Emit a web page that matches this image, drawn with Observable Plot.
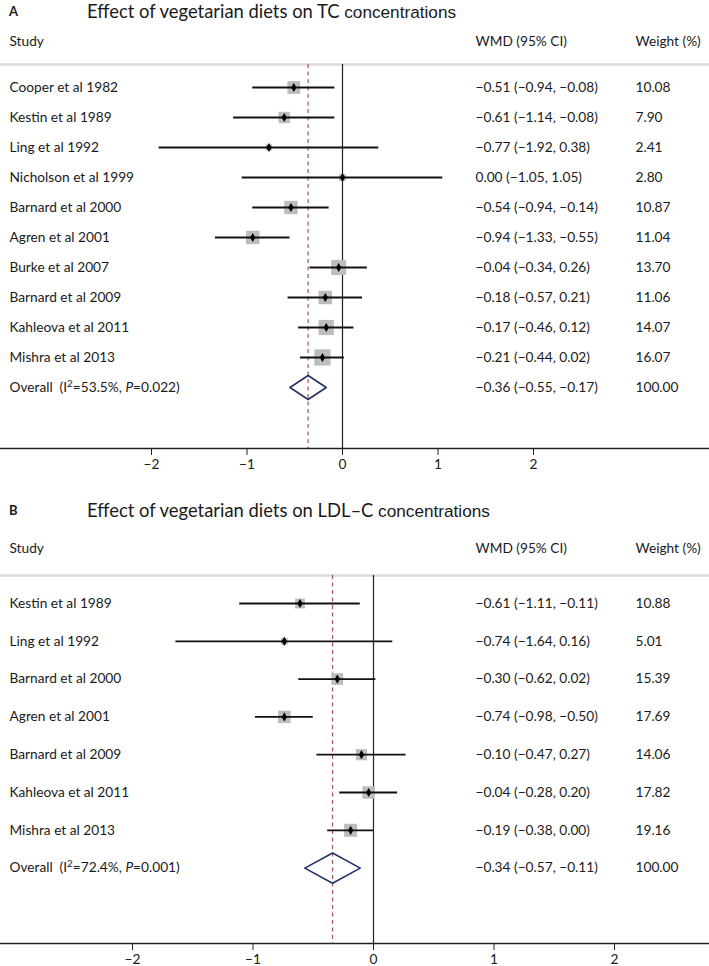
<!DOCTYPE html>
<html><head><meta charset="utf-8">
<script src="https://cdn.jsdelivr.net/npm/d3@7"></script>
<script src="https://cdn.jsdelivr.net/npm/@observablehq/plot@0.6"></script>
<style>
body{margin:0;background:#fff;font-family:Lato,sans-serif;color:#1a1a1a;}
#wrap{width:709px;}
.title{position:relative;width:709px;font-size:18.4px;}
.title span{position:absolute;top:0;line-height:24px;white-space:pre;}
.title .lab{left:9px;font-weight:bold;font-size:13px;}
.title .txt{left:87px;}
.title .arial{font-family:"Liberation Sans",Arial,sans-serif;font-size:17.2px;}
svg{display:block}
</style></head><body><div id="wrap"></div>
<script>
// ---- Panel A: TC ----
const studiesA = ["Cooper et al 1982","Kestin et al 1989","Ling et al 1992","Nicholson et al 1999","Barnard et al 2000","Agren et al 2001","Burke et al 2007","Barnard et al 2009","Kahleova et al 2011","Mishra et al 2013"];
const wmdA = [-0.51,-0.61,-0.77,0.00,-0.54,-0.94,-0.04,-0.18,-0.17,-0.21];
const loA  = [-0.94,-1.14,-1.92,-1.05,-0.94,-1.33,-0.34,-0.57,-0.46,-0.44];
const hiA  = [-0.08,-0.08,0.38,1.05,-0.14,-0.55,0.26,0.21,0.12,0.02];
const weightA = [10.08,7.90,2.41,2.80,10.87,11.04,13.70,11.06,14.07,16.07];
const overallA = {label:"Overall\u2002(I²=53.5%, P=0.022)", est:-0.36, lo:-0.55, hi:-0.17, w:100.00};

// ---- Panel B: LDL-C ----
const studiesB = ["Kestin et al 1989","Ling et al 1992","Barnard et al 2000","Agren et al 2001","Barnard et al 2009","Kahleova et al 2011","Mishra et al 2013"];
const wmdB = [-0.61,-0.74,-0.30,-0.74,-0.10,-0.04,-0.19];
const loB  = [-1.11,-1.64,-0.62,-0.98,-0.47,-0.28,-0.38];
const hiB  = [-0.11,0.16,0.02,-0.50,0.27,0.20,0.00];
const weightB = [10.88,5.01,15.39,17.69,14.06,17.82,19.16];
const overallB = {label:"Overall\u2002(I²=72.4%, P=0.001)", est:-0.34, lo:-0.57, hi:-0.11, w:100.00};

const xTicks = [-2,-1,0,1,2];
const headers = ["Study","WMD (95% CI)","Weight (%)"];

const f2 = d3.format(".2f");
const fInt = d3.format("d");
const ci = (e,l,h) => `${f2(e)} (${f2(l)}, ${f2(h)})`;

function panel(cfg){
  const n = cfg.studies.length;
  const rows = cfg.studies.map((s,i)=>({i, study:s, est:cfg.est[i], lo:cfg.lo[i], hi:cfg.hi[i], w:cfg.w[i]}));
  const ov = cfg.overall;
  const all = rows.concat([{i:n, study:ov.label, est:ov.est, lo:ov.lo, hi:ov.hi, w:ov.w}]);
  const dh = 0.4;
  const diamond = [[ov.lo,n],[ov.est,n-dh],[ov.hi,n],[ov.est,n+dh],[ov.lo,n]].map(([x,y])=>({x,y}));
  const svg = Plot.plot({
    width:709, height:cfg.height,
    marginLeft:0, marginRight:0, marginTop:cfg.top, marginBottom:cfg.bottom,
    x:{domain:[-2,2], range:cfg.xr},
    y:{domain:[0,n], range:[cfg.y0, cfg.y0 + n*cfg.step], axis:null},
    r:{type:"sqrt", domain:[0,100], range:[0,cfg.rmax]},
    style:{fontFamily:"Lato, sans-serif", fontSize:"13.7px", color:"#1a1a1a", background:"#fff"},
    marks:[
      Plot.frame({anchor:"top", stroke:"#dadada", strokeWidth:2.5}),
      Plot.ruleX([0], {stroke:"#222", strokeWidth:1.2}),
      Plot.ruleX([ov.est], {stroke:"#a3544c", strokeWidth:1.2, strokeDasharray:"4,3.5"}),
      Plot.dot(rows, {x:"est", y:"i", r:"w", symbol:"square", fill:"#bdbdbd", stroke:null}),
      Plot.ruleY(rows, {y:"i", x1:"lo", x2:"hi", stroke:"#111", strokeWidth:1.8}),
      Plot.dot(rows, {x:"est", y:"i", symbol:"diamond", r:2.8, fill:"#000", stroke:null}),
      Plot.line(diamond, {x:"x", y:"y", stroke:"#28306a", strokeWidth:1.6}),
      Plot.text(all, {y:"i", text:"study", frameAnchor:"left", dx:9, textAnchor:"start", fill:"#1a1a1a"}),
      Plot.text(all, {y:"i", text:d=>ci(d.est,d.lo,d.hi), frameAnchor:"left", dx:475, textAnchor:"start", fill:"#1a1a1a"}),
      Plot.text(all, {y:"i", text:d=>f2(d.w), frameAnchor:"left", dx:635, textAnchor:"start", fill:"#1a1a1a"}),
      Plot.text([headers[0]], {text:d=>d, frameAnchor:"top-left", dx:9, dy:cfg.hdy, lineAnchor:"middle", textAnchor:"start", fill:"#1a1a1a"}),
      Plot.text([headers[1]], {text:d=>d, frameAnchor:"top-left", dx:475, dy:cfg.hdy, lineAnchor:"middle", textAnchor:"start", fill:"#1a1a1a"}),
      Plot.text([headers[2]], {text:d=>d, frameAnchor:"top-left", dx:635, dy:cfg.hdy, lineAnchor:"middle", textAnchor:"start", fill:"#1a1a1a"}),
      Plot.axisX({ticks:xTicks, tickFormat:fInt, tickSize:7, tickPadding:4, label:null, stroke:"#222", fill:"#1a1a1a"}),
      Plot.frame({anchor:"bottom", stroke:"#222", strokeWidth:1.4})
    ]
  });
  // italic P and superscript 2 in the overall label
  d3.select(svg).selectAll("text").each(function(){
    const t = this.textContent;
    if (t.startsWith("Overall") && t.includes("P=")) {
      const m = t.match(/^(.*\(I)²(=.*, )P(=.*)$/);
      if (!m) return;
      const el = d3.select(this); el.text(null);
      el.append("tspan").text(m[1]);
      el.append("tspan").attr("font-size","10px").attr("dy","-5").text("2");
      el.append("tspan").attr("dy","5").text(m[2]);
      el.append("tspan").attr("font-style","italic").text("P");
      el.append("tspan").text(m[3]);
    }
  });
  return svg;
}

function title(lab, main, tail, h, pad){
  const d = document.createElement("div");
  d.className = "title"; d.style.height = h+"px";
  d.innerHTML = `<span class="lab" style="top:${pad}px">${lab}</span><span class="txt" style="top:${pad}px">${main}<span class="arial" style="position:static">${tail}</span></span>`;
  return d;
}

const wrap = document.getElementById("wrap");
wrap.appendChild(title("A","Effect of vegetarian diets on TC ","concentrations",24,-1));
wrap.appendChild(panel({studies:studiesA, est:wmdA, lo:loA, hi:hiA, w:weightA, overall:overallA,
  height:456, top:40, bottom:32, xr:[151,533], y0:63, step:30, rmax:22.85, hdy:-23}));
wrap.appendChild(title("B","Effect of vegetarian diets on LDL\u2013C ","concentrations",50,18));
wrap.appendChild(panel({studies:studiesB, est:wmdB, lo:loB, hi:hiB, w:weightB, overall:overallB,
  height:436, top:45, bottom:23, xr:[132,614], y0:73, step:37.8, rmax:16.8, hdy:-27}));
</script></body></html>
